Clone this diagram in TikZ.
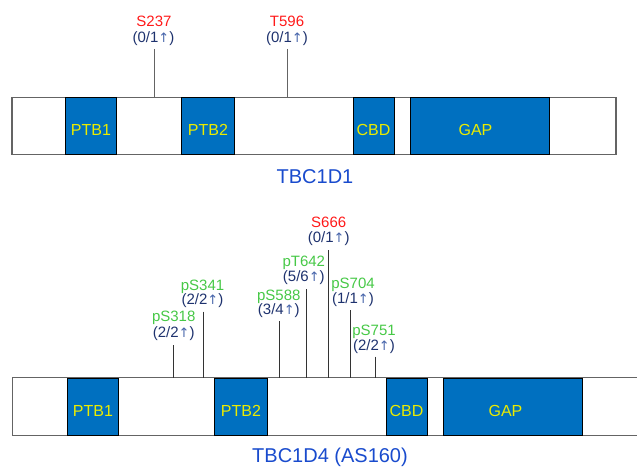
\documentclass[tikz,border=0pt]{standalone}
\usepackage{fontspec}
\setmainfont{Liberation Sans}
\newfontfamily\arrowfont{DejaVu Sans}
\definecolor{dom}{RGB}{0,112,192}
\definecolor{domtext}{RGB}{235,235,0}
\definecolor{sitered}{RGB}{255,25,25}
\definecolor{sitegreen}{RGB}{70,200,70}
\definecolor{countc}{RGB}{30,50,110}
\definecolor{arrowc}{RGB}{70,100,170}
\definecolor{titlec}{RGB}{25,75,205}
\definecolor{barc}{RGB}{100,100,100}
\begin{document}
\begin{tikzpicture}[x=1pt,y=-1pt,
  barbox/.style={draw=barc,line width=1.3pt,fill=white,inner sep=0pt,minimum height=57pt},
  barnode/.style={inner sep=0pt,minimum height=57pt},
  dombox/.style={draw=black,line width=0.9pt,fill=dom,inner sep=0pt,minimum height=57pt,
     text=domtext,font=\fontsize{16}{16}\selectfont,text height=19.5pt,text depth=0pt},
  site/.style={inner sep=0pt,font=\fontsize{15}{16}\selectfont,text height=11pt,text depth=0pt},
  redsite/.style={site,text=sitered},
  greensite/.style={site,text=sitegreen},
  count/.style={inner sep=0pt,font=\fontsize{15}{16}\selectfont,text=countc,text height=11pt,text depth=3.5pt},
  stalk/.style={line width=0.9pt,draw=black!80},
  title/.style={inner sep=0pt,font=\fontsize{20}{20}\selectfont,text=titlec}
]
\useasboundingbox (0,0) rectangle (637,468);
\newcommand{\cnt}[1]{(#1{\color{arrowc}\arrowfont\fontsize{13}{13}\selectfont ↑})}

% ---------- TBC1D1 ----------
\node[barbox,minimum width=604pt] (bar1) at (314,126) {};
\node[dombox,minimum width=51pt] (ptb1a) at (91,126) {PTB1};
\node[dombox,minimum width=53pt] (ptb2a) at (208,126) {PTB2};
\node[dombox,minimum width=41pt] (cbda) at (373.5,126) {CBD};
\node[dombox,minimum width=139pt] (gapa) at (479.5,126) {GAP\hspace*{8pt}};
\node[title] (t1) at (315,177) {TBC1D1};

\node[redsite] (s237) at (154,21.5) {S237};
\node[count] (s237c) at (153.5,38.5) {\cnt{0/1}};
\coordinate (s237t) at (154,49);
\coordinate (s237b) at (154,97.5);
\draw[stalk,draw=barc] (s237t) -- (s237b);

\node[redsite] (t596) at (287,21.5) {T596};
\node[count] (t596c) at (287,38.5) {\cnt{0/1}};
\coordinate (t596t) at (287.5,49);
\coordinate (t596b) at (287.5,97.5);
\draw[stalk,draw=barc] (t596t) -- (t596b);

% ---------- TBC1D4 ----------
\node[barnode,minimum width=624pt] (bar2) at (325,406.5) {};
\fill[white] (bar2.north west) rectangle (bar2.south east);
\draw[barc,line width=1.3pt] (bar2.north east) -- (bar2.north west) -- (bar2.south west) -- (bar2.south east);
\node[dombox,minimum width=51pt] (ptb1b) at (93,406.5) {PTB1};
\node[dombox,minimum width=53pt] (ptb2b) at (241,406.5) {PTB2};
\node[dombox,minimum width=41pt] (cbdb) at (406.5,406.5) {CBD};
\node[dombox,minimum width=139pt] (gapb) at (512.5,406.5) {GAP\hspace*{14pt}};
\node[title] (t4) at (330,457.5) {TBC1D4 (AS160)};

\node[greensite] (p318) at (173.7,316) {pS318};
\node[count] (p318c) at (173.7,333.5) {\cnt{2/2}};
\coordinate (p318t) at (173.5,345);
\coordinate (p318b) at (173.5,378);
\draw[stalk] (p318t) -- (p318b);

\node[greensite] (p341) at (202.5,284.5) {pS341};
\node[count] (p341c) at (202.5,301) {\cnt{2/2}};
\coordinate (p341t) at (203.3,311.7);
\coordinate (p341b) at (203.3,378);
\draw[stalk] (p341t) -- (p341b);

\node[greensite] (p588) at (278.8,294.5) {pS588};
\node[count] (p588c) at (278.8,311) {\cnt{3/4}};
\coordinate (p588t) at (279,321);
\coordinate (p588b) at (279,378);
\draw[stalk] (p588t) -- (p588b);

\node[greensite] (p642) at (303.8,260.5) {pT642};
\node[count] (p642c) at (303.8,277.5) {\cnt{5/6}};
\coordinate (p642t) at (306,289);
\coordinate (p642b) at (306,378);
\draw[stalk] (p642t) -- (p642b);

\node[redsite] (s666) at (328.7,221.5) {S666};
\node[count] (s666c) at (328.7,238.5) {\cnt{0/1}};
\coordinate (s666t) at (328.3,250);
\coordinate (s666b) at (328.3,378);
\draw[stalk] (s666t) -- (s666b);

\node[greensite] (p704) at (353,283) {pS704};
\node[count] (p704c) at (353,299.5) {\cnt{1/1}};
\coordinate (p704t) at (350.2,310);
\coordinate (p704b) at (350.2,378);
\draw[stalk] (p704t) -- (p704b);

\node[greensite] (p751) at (374,329.5) {pS751};
\node[count] (p751c) at (374,346.5) {\cnt{2/2}};
\coordinate (p751t) at (375,356.7);
\coordinate (p751b) at (375,378);
\draw[stalk] (p751t) -- (p751b);
\end{tikzpicture}
\end{document}
